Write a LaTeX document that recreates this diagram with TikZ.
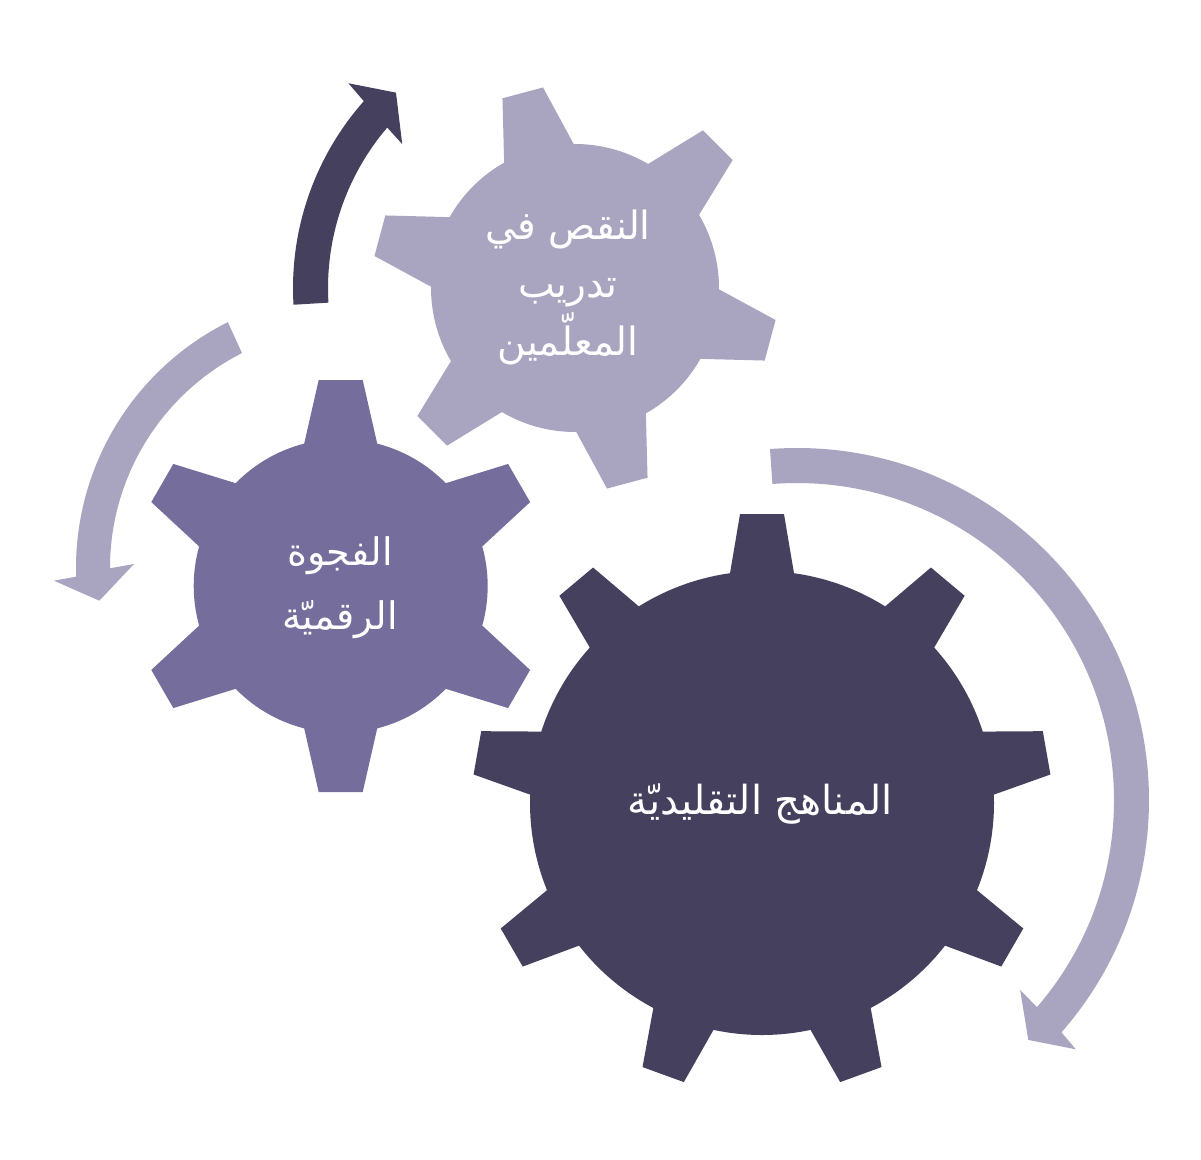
\documentclass[tikz,border=0pt]{standalone}
\usepackage{fontspec}
\newfontfamily\arabicfont[Script=Arabic]{DejaVu Sans}
\TeXXeTstate=1
\definecolor{geardark}{HTML}{46405F}
\definecolor{gearmid}{HTML}{756D9B}
\definecolor{gearlight}{HTML}{A9A5C1}
\tikzset{
  gearlabel/.style={text=white, align=center, inner sep=0pt},
  largetext/.style={font=\arabicfont\fontsize{40}{65}\selectfont},
  midtext/.style={font=\arabicfont\fontsize{38}{64}\selectfont},
  lighttext/.style={font=\arabicfont\fontsize{39}{58}\selectfont},
}
% #1 colour, #2 centre, #3 teeth, #4 first tooth angle, #5 body radius,
% #6 outer corner radius, #7 outer corner half-angle, #8 base half-angle
\newcommand{\gearshape}[8]{%
  \begin{scope}[shift={#2}]
    \pgfmathsetmacro\gstep{360/#3}
    \pgfmathtruncatemacro\glast{#3-1}
    \fill[#1] ({#4-#8}:#5pt) \foreach \k in {0,...,\glast}{
      -- ({#4+\gstep*\k-#7}:#6pt) -- ({#4+\gstep*\k+#7}:#6pt) -- ({#4+\gstep*\k+#8}:#5pt)
      arc[start angle={#4+\gstep*\k+#8}, end angle={#4+\gstep*(\k+1)-#8}, radius=#5pt]
    } -- cycle;
  \end{scope}}
\begin{document}
\begin{tikzpicture}[x=1pt,y=1pt]
\useasboundingbox (0,0) rectangle (1201,-1159);
\fill[white] (0,0) rectangle (1201,-1159);

% gears
\gearshape{geardark}{(762,-803)}{9}{90}{232}{289.84}{4.35}{7.93}
\gearshape{gearmid}{(340.7,-586)}{6}{90}{147}{207.17}{6.10}{14.38}
\gearshape{gearlight}{(575,-288)}{6}{105}{144}{203.09}{5.93}{14.48}

% dark arrow round the light gear
\begin{scope}[shift={(575,-288)}]
  \fill[geardark] (183.4:282pt) arc[start angle=183.4, end angle=138.5, radius=282pt]
    -- (137.9:305.4pt) -- (132.5:265pt) -- (140.2:224.9pt) -- (139.5:247pt)
    arc[start angle=139.5, end angle=183.4, radius=247pt] -- cycle;
\end{scope}
% light arrow on the left
\begin{scope}[shift={(351,-568)}]
  \fill[gearlight] (116.6:275pt) arc[start angle=116.6, end angle=181.8, radius=275pt]
    -- (182.45:297.3pt) -- (187.4:253.8pt) -- (178.94:217pt) -- (180.07:241pt)
    arc[start angle=180.07, end angle=116.9, radius=241pt] -- cycle;
\end{scope}
% light arrow on the right
\begin{scope}[shift={(797,-800)}]
  \fill[gearlight] (94.4:352pt) arc[start angle=94.4, end angle=-41.3, radius=352pt]
    -- (-41.8:374pt) -- (-46.05:333.3pt) -- (-40.4:293pt) -- (-40.8:317pt)
    arc[start angle=-40.8, end angle=94.45, radius=317pt] -- cycle;
\end{scope}

% labels
\node[gearlabel, lighttext] (lightlabel) at (568,-287)
  {\beginR النقص في\endR\\\beginR تدريب\endR\\\beginR المعلّمين\endR};
\node[gearlabel, midtext] (midlabel) at (340,-588)
  {\beginR الفجوة\endR\\\beginR الرقميّة\endR};
\node[gearlabel, largetext] (darklabel) at (760,-804)
  {\beginR المناهج التقليديّة\endR};
\end{tikzpicture}
\end{document}
